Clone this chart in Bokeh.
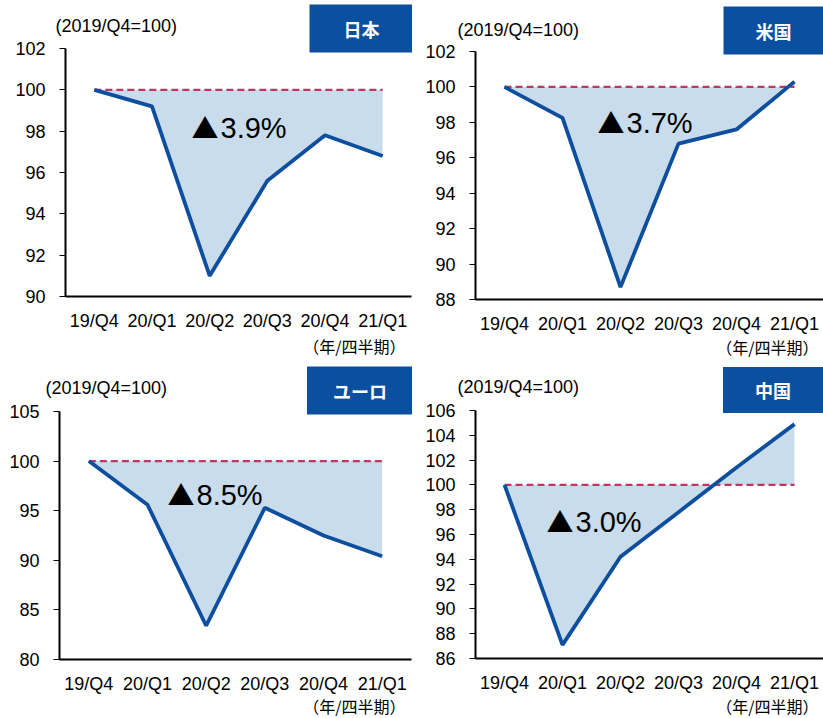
from bokeh.plotting import figure
from bokeh.models import Range1d, Label, FixedTicker, LinearAxis
from bokeh.layouts import gridplot
from bokeh.embed import file_html
from bokeh.resources import INLINE

# ---- data ----
quarters = ["19/Q4", "20/Q1", "20/Q2", "20/Q3", "20/Q4", "21/Q1"]
japan = [100.0, 99.2, 91.0, 95.6, 97.8, 96.8]
usa = [100.0, 98.25, 88.7, 96.8, 97.6, 100.3]
euro = [100.0, 95.6, 83.4, 95.3, 92.5, 90.4]
china = [100.0, 87.1, 94.2, 97.8, 101.4, 104.9]
series = [japan, usa, euro, china]
titles = ["日本", "米国", "ユーロ", "中国"]
drops = ["▲3.9%", "▲3.7%", "▲8.5%", "▲3.0%"]
y_lo = [90, 88, 80, 86]
y_hi = [102, 102, 105, 106]
y_step = [2, 2, 5, 2]
base_value = 100
base_label = "(2019/Q4=100)"
period_label = "（年/四半期）"

# ---- layout (pixels inside each panel) ----
# width, height, axis left, axis right, y of top tick, y of bottom tick (x axis)
geom = [
    (412, 359, 65, 411, 48, 296),
    (411, 359, 63, 411, 51, 299),
    (412, 359, 59, 411, 52, 300),
    (411, 359, 63, 411, 51, 299),
]
# base label (left, cy), title box (cx, cy, w, h), drop label (left, cy), period note (right, cy)
ann = [
    dict(base=(55, 25), box=(361, 28, 104, 44), drop=(193, 127), note=(405, 345)),
    dict(base=(45, 29), box=(361, 30, 100, 44), drop=(187, 122), note=(406, 346)),
    dict(base=(45, 28), box=(359.5, 31, 105, 44), drop=(169, 135), note=(405, 346)),
    dict(base=(45, 27), box=(360.5, 30.5, 101, 43), drop=(136, 162), note=(406, 346)),
]

LINE_C = "#0D4F9E"
FILL_C = "#C9DCEC"
DASH_C = "#C0365F"
BOX_C = "#0B50A0"
LATIN = "Liberation Sans"
CJK = "Noto Sans CJK JP"

positions = list(range(len(quarters)))
figs = []
for i in range(4):
    w, h, fl, fr, ft, fb = geom[i]
    lo, hi = y_lo[i], y_hi[i]
    n = len(quarters)
    cw = (fr - fl) / n                 # pixels per category
    k = (hi - lo) / (fb - ft)          # data units per pixel (y)

    def dx(px):
        return (px - fl) / cw - 0.5

    def dy(py):
        return hi - (py - ft) * k

    p = figure(width=w, height=h, x_range=Range1d(dx(0), dx(w)),
               y_range=Range1d(dy(h), dy(0)), output_backend="svg",
               toolbar_location=None, x_axis_location=None, y_axis_location=None,
               min_border_left=0, min_border_right=0,
               min_border_top=0, min_border_bottom=0)
    p.xgrid.visible = False
    p.ygrid.visible = False
    p.outline_line_color = None
    p.background_fill_color = "white"
    p.border_fill_color = "white"

    vals = series[i]
    base = [base_value] * n
    p.varea(x=positions, y1=vals, y2=base, fill_color=FILL_C, fill_alpha=1.0)
    p.line(x=positions, y=base, line_color=DASH_C, line_width=2.2, line_dash="7 4")
    p.line(x=positions, y=vals, line_color=LINE_C, line_width=3.8)

    ya = LinearAxis(ticker=FixedTicker(ticks=list(range(lo, hi + 1, y_step[i]))),
                    bounds=(lo, hi), fixed_location=dx(fl))
    ya.major_tick_out = 6
    ya.major_tick_in = 0
    ya.minor_tick_out = 0
    ya.minor_tick_in = 0
    ya.axis_line_width = 2
    ya.axis_line_color = "black"
    ya.major_tick_line_color = "black"
    ya.major_label_standoff = 14
    ya.major_label_text_font = LATIN
    ya.major_label_text_font_size = "18px"
    ya.major_label_text_color = "black"
    p.add_layout(ya, "left")

    xa = LinearAxis(ticker=FixedTicker(ticks=positions), bounds=(dx(fl), dx(fr)),
                    fixed_location=lo,
                    major_label_overrides={j: q for j, q in zip(positions, quarters)})
    xa.major_tick_out = 0
    xa.major_tick_in = 0
    xa.minor_tick_out = 0
    xa.minor_tick_in = 0
    xa.axis_line_width = 2
    xa.axis_line_color = "black"
    xa.major_label_standoff = 14
    xa.major_label_text_font = LATIN
    xa.major_label_text_font_size = "18px"
    xa.major_label_text_color = "black"
    p.add_layout(xa, "below")

    a = ann[i]
    bx, by = a["base"]
    p.add_layout(Label(x=dx(bx), y=dy(by), text=base_label, text_font=LATIN,
                       text_font_size="18px", text_align="left",
                       text_baseline="middle", text_color="black"))
    cx, cy, bw, bh = a["box"]
    tw = 18 * len(titles[i])
    ph = int(round((bw - tw) / 2))
    pv = int(round((bh - 22) / 2))
    p.add_layout(Label(x=dx(cx), y=dy(cy), text=titles[i], text_font=CJK,
                       text_font_size="18px", text_font_style="bold",
                       text_color="white", text_align="center",
                       text_baseline="middle", background_fill_color=BOX_C,
                       padding=dict(left=ph, right=ph, top=pv, bottom=pv)))
    ddx, ddy = a["drop"]
    p.add_layout(Label(x=dx(ddx - 2), y=dy(ddy), text=drops[i][0], text_font=CJK,
                       text_font_size="27px", text_align="left",
                       text_baseline="middle", text_color="black"))
    p.add_layout(Label(x=dx(ddx + 27), y=dy(ddy), text=drops[i][1:], text_font=LATIN,
                       text_font_size="29px", text_align="left",
                       text_baseline="middle", text_color="black"))
    nx, ny = a["note"]
    p.add_layout(Label(x=dx(nx), y=dy(ny), text=period_label, text_font=CJK,
                       text_font_size="16px", text_align="right",
                       text_baseline="middle", text_color="black"))
    figs.append(p)

grid = gridplot([[figs[0], figs[1]], [figs[2], figs[3]]], toolbar_location=None)

open("out.html", "w").write(file_html(grid, INLINE))
